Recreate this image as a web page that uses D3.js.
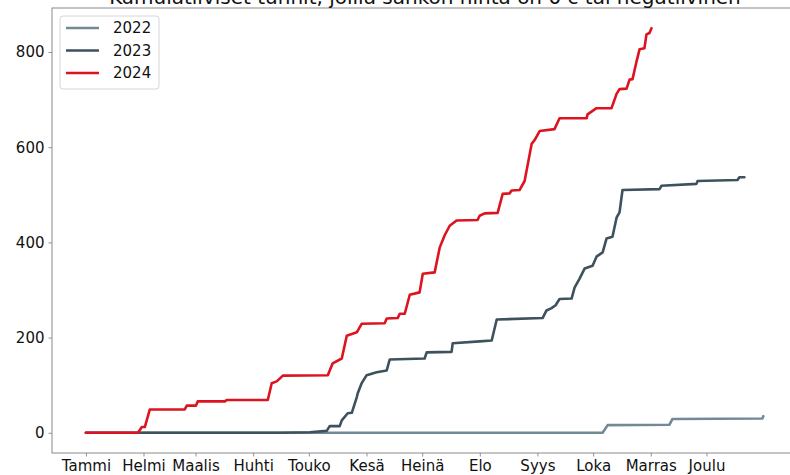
<!DOCTYPE html>
<html>
<head>
<meta charset="utf-8">
<script src="https://cdn.jsdelivr.net/npm/d3@7"></script>
<style>
  body { margin: 0; background: #fff; }
  svg { font-family: "DejaVu Sans", sans-serif; display: block; }
  svg text { font-family: "DejaVu Sans", sans-serif; }
</style>
</head>
<body>
<svg id="chart"></svg>
<script>
//------ Données ------
var title = "Kumulatiiviset tunnit, joilla sähkön hinta on 0 c tai negatiivinen";

var monthNames = ["Tammi", "Helmi", "Maalis", "Huhti", "Touko", "Kesä", "Heinä", "Elo", "Syys", "Loka", "Marras", "Joulu"];
var monthStartDays = [1, 32, 60, 91, 121, 152, 182, 213, 244, 274, 305, 335];
var yTicks = [0, 200, 400, 600, 800];

var years = ["2022", "2023", "2024"];

// päivä vuodessa / kumulatiiviset tunnit
var days2022 = [1, 279.1, 281.8, 315.1, 316.7, 365.1, 365.6];
var hours2022 = [0, 0, 16, 17, 29, 30, 35];

var days2023 = [1, 105.3, 121.5, 130.6, 132.2, 137.6, 138.7, 141.9, 144.1, 146.8, 147.3, 149.4, 152.1, 157.5, 162.9, 164.5,
  183.3, 184.4, 197.8, 198.4, 212.9, 219.4, 222.1, 246.8, 248.9, 251.6, 253.8, 255.9, 262.4, 264.0, 266.7, 269.4,
  273.7, 275.8, 279.1, 281.2, 284.4, 286.6, 288.2, 289.8, 309.7, 310.8, 329.6, 330.2, 351.7, 352.7, 355.4];
var hours2023 = [0, 0, 1, 4, 14, 14, 26, 41, 42, 75, 83, 104, 121, 127, 131, 154,
  156, 169, 170, 188, 192, 194, 238, 241, 257, 262, 268, 281, 282, 305, 324, 345,
  351, 370, 379, 408, 412, 452, 463, 510, 512, 519, 523, 529, 531, 537, 537];

var days2024 = [1, 29.0, 31.1, 32.7, 35.4, 54.2, 55.3, 60.2, 61.2, 75.8, 76.8, 98.9, 101.0, 103.7, 107.0, 131.2,
  133.8, 138.7, 141.4, 146.8, 149.4, 161.8, 162.9, 168.8, 169.9, 172.6, 175.3, 180.6, 182.3, 188.7, 191.4, 194.1,
  196.8, 200.5, 211.8, 212.9, 215.6, 222.6, 225.3, 229.0, 230.1, 234.4, 237.1, 240.9, 242.5, 245.2, 253.2, 255.9,
  270.5, 271.0, 275.8, 283.9, 286.6, 288.2, 292.0, 293.6, 295.2, 297.4, 299.0, 301.6, 302.7, 304.3, 305.4];
var hours2024 = [0, 0, 12, 12, 49, 49, 57, 57, 66, 66, 69, 69, 104, 108, 120, 121,
  146, 156, 204, 211, 229, 230, 240, 241, 250, 250, 290, 295, 334, 337, 389, 415,
  435, 446, 447, 456, 461, 462, 502, 503, 509, 510, 529, 607, 615, 634, 638, 661,
  661, 669, 682, 682, 712, 722, 723, 742, 743, 781, 806, 808, 837, 840, 850];

var colors = ["#728a96", "#3e525d", "#dc1420"];

//------ Rendre le graphique ------
var width = 790, height = 475;
var margin = {left: 52, right: -8, top: 8, bottom: 22};

var svg = d3.select("#chart")
    .attr("width", width)
    .attr("height", height);

var x = d3.scaleLinear()
    .domain([1 - 18.25, 366 + 18.25])
    .range([margin.left, width - margin.right]);

var y = d3.scaleLinear()
    .domain([-42.5, 892.5])
    .range([height - margin.bottom, margin.top]);

var series = [
  {name: years[0], days: days2022, hours: hours2022, color: colors[0]},
  {name: years[1], days: days2023, hours: hours2023, color: colors[1]},
  {name: years[2], days: days2024, hours: hours2024, color: colors[2]}
];

var line = d3.line()
    .x(d => x(d[0]))
    .y(d => y(d[1]));

svg.append("g")
    .selectAll("path")
    .data(series)
    .enter()
    .append("path")
    .attr("fill", "none")
    .attr("stroke", d => d.color)
    .attr("stroke-width", 2.6)
    .attr("stroke-linejoin", "round")
    .attr("stroke-linecap", "round")
    .attr("d", d => line(d.days.map((v, i) => [v, d.hours[i]])));

// axes
var xAxis = svg.append("g")
    .attr("transform", "translate(0," + (height - margin.bottom) + ")")
    .call(d3.axisBottom(x).tickValues(monthStartDays).tickFormat((d, i) => monthNames[i]).tickSize(3.5).tickPadding(4));

var yAxis = svg.append("g")
    .attr("transform", "translate(" + margin.left + ",0)")
    .call(d3.axisLeft(y).tickValues(yTicks).tickSize(3.5).tickPadding(4));

[xAxis, yAxis].forEach(function (g) {
  g.attr("font-family", null).attr("font-size", null);
  g.select(".domain").remove();
  g.selectAll(".tick line").attr("stroke", "#777").attr("stroke-width", 0.8);
  g.selectAll(".tick text").attr("fill", "#111").style("font-size", "15px");
});

// cadre
svg.append("rect")
    .attr("x", margin.left)
    .attr("y", margin.top)
    .attr("width", width - margin.right - margin.left)
    .attr("height", height - margin.bottom - margin.top)
    .attr("fill", "none")
    .attr("stroke", "#8a8a8a")
    .attr("stroke-width", 1);

// titre
svg.append("text")
    .attr("x", (margin.left + width - margin.right) / 2)
    .attr("y", 4)
    .attr("text-anchor", "middle")
    .style("font-size", "20px")
    .attr("fill", "#111")
    .text(title);

// légende
var legend = svg.append("g").attr("transform", "translate(60,16)");
legend.append("rect")
    .attr("width", 99)
    .attr("height", 73)
    .attr("rx", 3)
    .attr("fill", "#fff")
    .attr("fill-opacity", 0.8)
    .attr("stroke", "#d6d6d6");

var items = legend.selectAll("g.item")
    .data(series)
    .enter()
    .append("g")
    .attr("class", "item")
    .attr("transform", (d, i) => "translate(0," + (12 + i * 22.5) + ")");

items.append("line")
    .attr("x1", 6).attr("x2", 39)
    .attr("stroke", d => d.color)
    .attr("stroke-width", 2.6);

items.append("text")
    .attr("x", 53)
    .attr("dy", "0.36em")
    .style("font-size", "15px")
    .attr("fill", "#111")
    .text(d => d.name);
</script>
</body>
</html>
